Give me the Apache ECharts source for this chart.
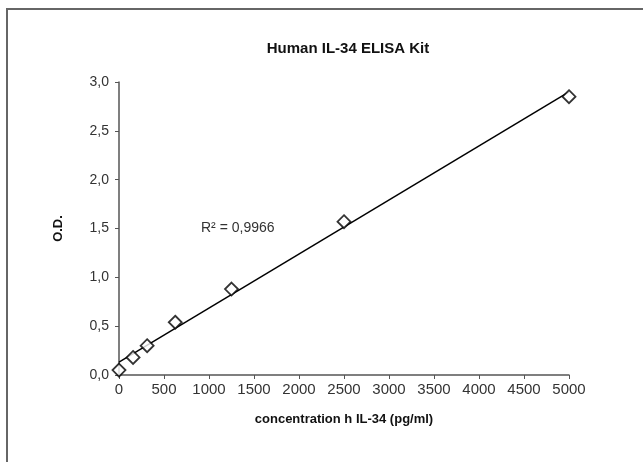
<!DOCTYPE html>
<html>
<head>
<meta charset="utf-8">
<script src="https://cdn.jsdelivr.net/npm/echarts@6/dist/echarts.min.js"></script>
<style>
  html, body { margin: 0; padding: 0; background: #fff; }
  #main { width: 643px; height: 462px; }
</style>
</head>
<body>
<div id="main"></div>
<script>
// standard curve data
var concentrations = [0, 156.25, 312.5, 625, 1250, 2500, 5000];
var odValues = [0.05, 0.18, 0.30, 0.54, 0.88, 1.57, 2.85];
var rSquaredText = 'R² = 0,9966';

// least squares trend line from the points
function linearFit(xs, ys) {
    var n = xs.length, mx = 0, my = 0;
    for (var i = 0; i < n; i++) { mx += xs[i]; my += ys[i]; }
    mx /= n; my /= n;
    var sxy = 0, sxx = 0;
    for (var i = 0; i < n; i++) {
        sxy += (xs[i] - mx) * (ys[i] - my);
        sxx += (xs[i] - mx) * (xs[i] - mx);
    }
    var m = sxy / sxx;
    return { m: m, b: my - m * mx };
}

var fit = linearFit(concentrations, odValues);
var xMin = concentrations[0], xMax = concentrations[concentrations.length - 1];
var trend = [[xMin, fit.m * xMin + fit.b], [xMax, fit.m * xMax + fit.b]];

var points = [];
for (var i = 0; i < concentrations.length; i++) {
    points.push([concentrations[i], odValues[i]]);
}

var font = 'Liberation Sans, Arial, sans-serif';
var myChart = echarts.init(document.getElementById('main'));

var option = {
    backgroundColor: '#fff',
    animation: false,
    title: {
        text: 'Human IL-34 ELISA Kit',
        left: 343,
        textAlign: 'center',
        top: 36,
        textStyle: { fontFamily: font, fontSize: 15, fontWeight: 'bold', color: '#111' }
    },
    grid: { left: 119, right: 74, top: 82, bottom: 87 },
    xAxis: {
        type: 'value',
        min: 0, max: 5000, interval: 500,
        name: 'concentration h IL-34 (pg/ml)',
        nameLocation: 'middle',
        nameGap: 38,
        nameTextStyle: { fontFamily: font, fontSize: 13, fontWeight: 'bold', color: '#111' },
        axisLine: { lineStyle: { color: '#555', width: 1.5 } },
        axisTick: { show: true, length: 4, lineStyle: { color: '#555' } },
        axisLabel: {
            fontFamily: font, fontSize: 15, color: '#333', margin: 7,
            formatter: function (v) { return String(v); }
        },
        splitLine: { show: false }
    },
    yAxis: {
        type: 'value',
        min: 0, max: 3, interval: 0.5,
        name: 'O.D.',
        nameLocation: 'middle',
        nameGap: 54,
        nameRotate: 90,
        nameTextStyle: { fontFamily: font, fontSize: 13, fontWeight: 'bold', color: '#111' },
        axisLine: { show: true, lineStyle: { color: '#555', width: 1.5 } },
        axisTick: { show: true, length: 4, lineStyle: { color: '#555' } },
        axisLabel: {
            fontFamily: font, fontSize: 14, color: '#333', margin: 10,
            formatter: function (v) { return v.toFixed(1).replace('.', ','); }
        },
        splitLine: { show: false }
    },
    series: [
        {
            name: 'trend',
            type: 'line',
            data: trend,
            showSymbol: false,
            lineStyle: { color: '#000', width: 1.5 },
            z: 2
        },
        {
            name: 'standards',
            type: 'scatter',
            data: points,
            symbol: 'diamond',
            symbolSize: 13,
            itemStyle: { color: '#fff', borderColor: '#000', borderWidth: 1.8 },
            z: 3
        }
    ],
    graphic: [
        {
            type: 'polyline',
            shape: { points: [[7, 462], [7, 9], [643, 9]] },
            style: { stroke: '#666', lineWidth: 2, fill: null }
        },
        {
            type: 'text',
            left: 201,
            top: 221,
            style: { text: rSquaredText, fontFamily: font, fontSize: 14, fill: '#333' }
        }
    ]
};

myChart.setOption(option);
</script>
</body>
</html>
